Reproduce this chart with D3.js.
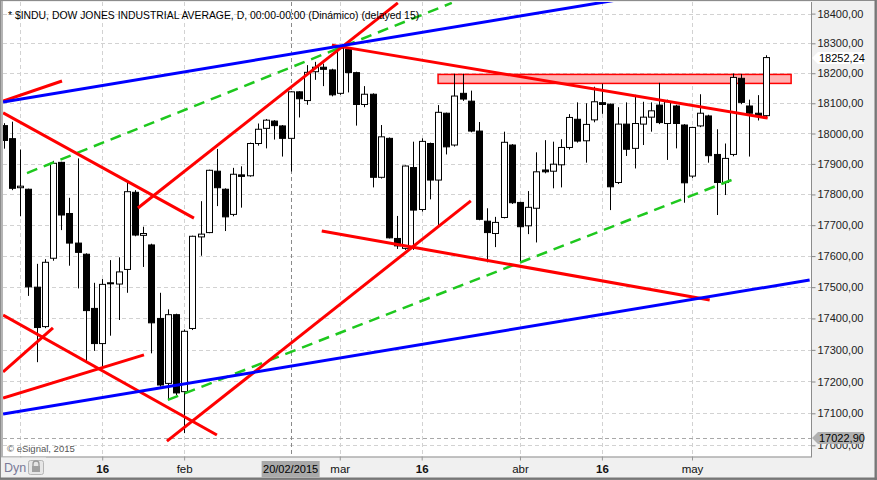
<!DOCTYPE html>
<html><head><meta charset="utf-8">
<script src="https://cdn.jsdelivr.net/npm/d3@7"></script>
<style>body{margin:0;background:#fff}svg{display:block;font-family:"Liberation Sans",Arial,sans-serif}</style>
</head><body><svg id="c" width="877" height="480"></svg>
<script>
const dates = ["2014-12-30","2014-12-31","2015-01-02","2015-01-05","2015-01-06","2015-01-07","2015-01-08","2015-01-09","2015-01-12","2015-01-13","2015-01-14","2015-01-15","2015-01-16","2015-01-20","2015-01-21","2015-01-22","2015-01-23","2015-01-26","2015-01-27","2015-01-28","2015-01-29","2015-01-30","2015-02-02","2015-02-03","2015-02-04","2015-02-05","2015-02-06","2015-02-09","2015-02-10","2015-02-11","2015-02-12","2015-02-13","2015-02-17","2015-02-18","2015-02-19","2015-02-20","2015-02-23","2015-02-24","2015-02-25","2015-02-26","2015-02-27","2015-03-02","2015-03-03","2015-03-04","2015-03-05","2015-03-06","2015-03-09","2015-03-10","2015-03-11","2015-03-12","2015-03-13","2015-03-16","2015-03-17","2015-03-18","2015-03-19","2015-03-20","2015-03-23","2015-03-24","2015-03-25","2015-03-26","2015-03-27","2015-03-30","2015-03-31","2015-04-01","2015-04-02","2015-04-06","2015-04-07","2015-04-08","2015-04-09","2015-04-10","2015-04-13","2015-04-14","2015-04-15","2015-04-16","2015-04-17","2015-04-20","2015-04-21","2015-04-22","2015-04-23","2015-04-24","2015-04-27","2015-04-28","2015-04-29","2015-04-30","2015-05-01","2015-05-04","2015-05-05","2015-05-06","2015-05-07","2015-05-08","2015-05-11","2015-05-12","2015-05-13","2015-05-14"];
const open  = [18026,17983,17822,17817,17500,17374,17593,17905,17738,17642,17606,17432,17320,17514,17510,17557,17807,17667,17636,17400,17194,17412,17168,17368,17662,17676,17876,17817,17735,17864,17861,17967,18017,18041,18025,17984,18138,18109,18205,18220,18211,18133,18280,18202,18096,18130,17856,17984,17657,17625,17888,17751,17967,17847,18067,17962,18133,18107,18008,17713,17673,17725,17962,17774,17698,17755,17880,17876,17897,17954,18047,17976,18045,18102,18097,17839,18031,17951,18031,18054,18094,18033,18091,18028,17860,18025,18058,17931,17839,17931,18183,18091,18067,18059];
const high  = [18034,18039,17947,17819,17575,17590,17910,17907,17789,17918,17609,17514,17526,17587,17596,17839,17814,17695,17640,17482,17429,17415,17365,17666,17778,17881,17949,17820,17887,17892,17970,18033,18048,18044,18028,18140,18140,18227,18238,18232,18215,18294,18284,18205,18157,18133,18028,17987,17730,17895,17973,17984,17970,18094,18069,18198,18198,18142,18038,17755,17727,18006,17965,17776,17811,17938,17978,17973,17981,18064,18103,18100,18155,18165,18099,18087,18103,18128,18105,18103,18168,18112,18095,18031,18022,18130,18062,18014,17967,18199,18197,18112,18127,18260];
const low   = [17950,17814,17729,17472,17261,17369,17585,17684,17569,17496,17262,17297,17247,17345,17395,17482,17664,17565,17289,17184,17141,17157,17038,17363,17601,17674,17762,17681,17729,17757,17858,17960,17951,17980,17924,17875,18053,18095,18178,18157,18123,18128,18136,18026,18087,17823,17852,17657,17623,17620,17620,17744,17784,17695,17931,17957,18108,18004,17716,17580,17629,17722,17769,17580,17671,17644,17869,17820,17823,17947,17970,17904,18037,18065,17749,17834,17926,17885,17962,18006,18031,17913,17951,17773,17854,18021,17904,17733,17798,17925,18097,17924,18043,18052];
const close = [17977,17820,17827,17501,17371,17580,17902,17733,17642,17612,17425,17320,17509,17511,17549,17809,17668,17673,17386,17189,17412,17164,17359,17664,17671,17879,17822,17727,17866,17859,17967,18014,18044,18026,17984,18138,18115,18203,18220,18213,18128,18284,18202,18096,18130,17856,17989,17659,17633,17893,17749,17974,17847,18070,17956,18124,18114,18008,17719,17676,17709,17971,17773,17695,17758,17874,17874,17899,17954,18053,17975,18030,18105,18096,17825,18031,17948,18033,18054,18075,18036,18105,18033,17838,18020,18067,17927,17839,17918,18186,18103,18067,18059,18252.24];

const priceTicks = [17000,17100,17200,17300,17400,17500,17600,17700,17800,17900,18000,18100,18200,18300,18400];
const gridDates  = ["2015-01-02","2015-01-16","2015-02-02","2015-03-02","2015-03-16","2015-04-01","2015-04-16","2015-05-01"];
const gridLabels = ["","16","feb","mar","16","abr","16","may"];
const cursorDate = "2015-02-20";
const cursorLabel = "20/02/2015";
const lastValue = 18252.24;
const lowMark = 17022.90;
const titleText = "* $INDU, DOW JONES INDUSTRIAL AVERAGE, D, 00:00-00:00 (Dinámico) (delayed 15)";
const copyright = "© eSignal, 2015";

// drawn trendlines: [bar index 1, price 1, bar index 2, price 2]
const blueLines  = [[-0.1,18104,74.6,18445],[-0.1,17098,98.36,17523]];
const redLines   = [[-0.1,18107,7.09,18174],[-0.1,18068,23.2,17723],[16.36,17756,48.09,18436],[19.9,17013,57.0,17779],
                    [-0.1,17411,26.0,17032],[-0.1,17230,5.99,17370],[-0.1,17148,17.1,17284],[38.8,17681,86.16,17459],[40.04,18294,93.24,18051]];
const greenLines = [[2.82,17870,54.68,18436],[20.02,17142,89.09,17850]];
const zone = [53, 96.1, 18196, 18166];

const W = 877, H = 480;
const plot = {l:3, t:2, r:811, b:456.5};
const svg = d3.select("#c");
const x = d3.scaleLinear().domain([2, 84]).range([20.3, 692]);
const y = d3.scaleLog().domain([17000, 18400]).range([445.3, 13.6]);
const fmt = d3.formatLocale({decimal:",", thousands:".", grouping:[3], currency:["",""]}).format(".2f");
const idx = d => dates.indexOf(d);

svg.append("rect").attr("width", W).attr("height", H).attr("fill", "#f0f0f0");
svg.append("rect").attr("x", plot.l).attr("y", plot.t).attr("width", plot.r - plot.l).attr("height", plot.b - plot.t).attr("fill", "#fff");
svg.append("defs").append("clipPath").attr("id", "clip").append("rect")
  .attr("x", plot.l).attr("y", plot.t).attr("width", plot.r - plot.l).attr("height", plot.b - plot.t);

const g = svg.append("g").attr("clip-path", "url(#clip)");

// grid
g.selectAll("line.hg").data(priceTicks).join("line").attr("class","hg")
  .attr("x1", plot.l).attr("x2", plot.r).attr("y1", d => Math.round(y(d))+0.5).attr("y2", d => Math.round(y(d))+0.5)
  .attr("stroke", "#d2d2d2").attr("stroke-dasharray", "4,3");
g.selectAll("line.vg").data(gridDates).join("line").attr("class","vg")
  .attr("x1", d => Math.round(x(idx(d)))+0.5).attr("x2", d => Math.round(x(idx(d)))+0.5).attr("y1", plot.t).attr("y2", plot.b)
  .attr("stroke", "#d2d2d2").attr("stroke-dasharray", "4,3");
g.append("line").attr("x1", plot.l).attr("x2", plot.r).attr("y1", Math.round(y(lowMark))+0.5).attr("y2", Math.round(y(lowMark))+0.5)
  .attr("stroke", "#a8a8a8").attr("stroke-dasharray", "4,3");
g.append("line").attr("x1", Math.round(x(idx(cursorDate)))+0.5).attr("x2", Math.round(x(idx(cursorDate)))+0.5).attr("y1", plot.t).attr("y2", plot.b)
  .attr("stroke", "#8a8a8a").attr("stroke-dasharray", "4,3");

// zone rectangle
g.append("rect").attr("x", x(zone[0])).attr("width", x(zone[1]) - x(zone[0]))
  .attr("y", y(zone[2])).attr("height", y(zone[3]) - y(zone[2]))
  .attr("fill", "#ffb3b3").attr("stroke", "#ff0000").attr("stroke-width", 1.5);

// candles
const bars = dates.map((d, i) => ({i, o: open[i], h: high[i], l: low[i], c: close[i]}));
const cg = g.append("g");
cg.selectAll("line.w").data(bars).join("line").attr("class","w")
  .attr("x1", d => Math.round(x(d.i))+0.5).attr("x2", d => Math.round(x(d.i))+0.5)
  .attr("y1", d => y(d.h)).attr("y2", d => y(d.l)).attr("stroke", "#000").attr("stroke-width", 1);
cg.selectAll("rect.b").data(bars).join("rect").attr("class","b")
  .attr("x", d => Math.round(x(d.i)) - 2.5).attr("width", 6)
  .attr("y", d => Math.min(y(d.o), y(d.c)))
  .attr("height", d => Math.max(1, Math.abs(y(d.o) - y(d.c))))
  .attr("fill", d => d.c >= d.o ? "#fff" : "#000").attr("stroke", "#000").attr("stroke-width", 1);

// trendlines
function drawLines(data, color, width, dash) {
  g.append("g").selectAll("line").data(data).join("line")
    .attr("x1", d => x(d[0])).attr("y1", d => y(d[1])).attr("x2", d => x(d[2])).attr("y2", d => y(d[3]))
    .attr("stroke", color).attr("stroke-width", width).attr("stroke-dasharray", dash || null);
}
drawLines(greenLines, "#1ec81e", 2.5, "11,7");
drawLines(redLines, "#ff0000", 3);
drawLines(blueLines, "#0000ff", 3);

// title and copyright
svg.append("text").attr("x", 8).attr("y", 18.5).attr("font-size", 10.4).attr("fill", "#000").text(titleText);
svg.append("text").attr("x", 7).attr("y", 452).attr("font-size", 9.5).attr("fill", "#555").text(copyright);

// frame
svg.append("rect").attr("x", 0).attr("y", 0).attr("width", 3).attr("height", plot.b).attr("fill", "#b5b5b5");
svg.append("line").attr("x1", plot.r+0.5).attr("x2", plot.r+0.5).attr("y1", plot.t).attr("y2", plot.b+0.5).attr("stroke", "#8c8c8c");
svg.append("line").attr("x1", 0).attr("x2", plot.r+1).attr("y1", plot.b+0.5).attr("y2", plot.b+0.5).attr("stroke", "#8c8c8c");

// right axis
const ya = svg.append("g").attr("transform", `translate(${plot.r+0.5},0)`)
  .call(d3.axisRight(y).tickValues(priceTicks).tickFormat(fmt).tickSize(4).tickPadding(2));
ya.select(".domain").remove();
ya.selectAll("line").attr("stroke", "#888");
ya.selectAll("text").attr("font-size", 11).attr("fill", "#222").attr("font-family", "Liberation Sans, Arial, sans-serif");

function priceFlag(v, fill) {
  const yy = Math.round(y(v));
  const gg = svg.append("g");
  gg.append("path").attr("d", `M${plot.r+1},${yy} L${plot.r+7},${yy-6} L${plot.r+53},${yy-6} L${plot.r+53},${yy+6} L${plot.r+7},${yy+6} Z`).attr("fill", fill);
  gg.append("text").attr("x", plot.r+8).attr("y", yy).attr("dy", "0.36em").attr("font-size", 11).attr("fill", "#000").text(fmt(v));
}
priceFlag(lastValue, "#ffffff");
priceFlag(lowMark, "#b0b0b0");

// bottom axis
const xa = svg.append("g").attr("transform", `translate(0,${plot.b})`)
  .call(d3.axisBottom(x).tickValues(gridDates.map(idx)).tickFormat((d, i) => gridLabels[i]).tickSize(4).tickPadding(4));
xa.select(".domain").remove();
xa.selectAll("line").attr("stroke", "#999");
xa.selectAll("text").attr("font-size", 11.5).attr("fill", "#111").attr("font-family", "Liberation Sans, Arial, sans-serif")
  .attr("font-weight", (d, i) => /\d/.test(gridLabels[i]) ? "bold" : "normal");

// cursor date flag
const cx = x(idx(cursorDate));
svg.append("rect").attr("x", cx - 29).attr("y", 461).attr("width", 58).attr("height", 16).attr("fill", "#a9a9a9");
svg.append("text").attr("x", cx).attr("y", 469).attr("dy", "0.36em").attr("text-anchor", "middle").attr("font-size", 11).attr("fill", "#000").text(cursorLabel);

// Dyn button and lock
svg.append("rect").attr("x", 0).attr("y", plot.b+1).attr("width", 46).attr("height", 20).attr("fill", "#f0f0f0");
svg.append("text").attr("x", 4).attr("y", 472).attr("font-size", 12.5).attr("fill", "#7a7a98").text("Dyn");
svg.append("rect").attr("x", 28.5).attr("y", 460.5).attr("width", 15).attr("height", 14).attr("rx", 2).attr("fill", "#e6e6e6").attr("stroke", "#b5b5b5");
svg.append("path").attr("d", "M33,466 v-2 a3,3 0 0 1 6,0 v2").attr("fill", "none").attr("stroke", "#999").attr("stroke-width", 1.3);
svg.append("rect").attr("x", 32).attr("y", 466).attr("width", 8).attr("height", 6).attr("fill", "#a0a0a0");

// outer border
svg.append("rect").attr("x", 0.5).attr("y", 0.5).attr("width", W-1).attr("height", H-1).attr("fill", "none").attr("stroke", "#8c8c8c");
svg.append("line").attr("x1", 0).attr("x2", W).attr("y1", H-1.5).attr("y2", H-1.5).attr("stroke", "#777").attr("stroke-width", 2);
svg.append("line").attr("x1", W-1.5).attr("x2", W-1.5).attr("y1", 0).attr("y2", H).attr("stroke", "#777").attr("stroke-width", 2);
</script></body></html>
